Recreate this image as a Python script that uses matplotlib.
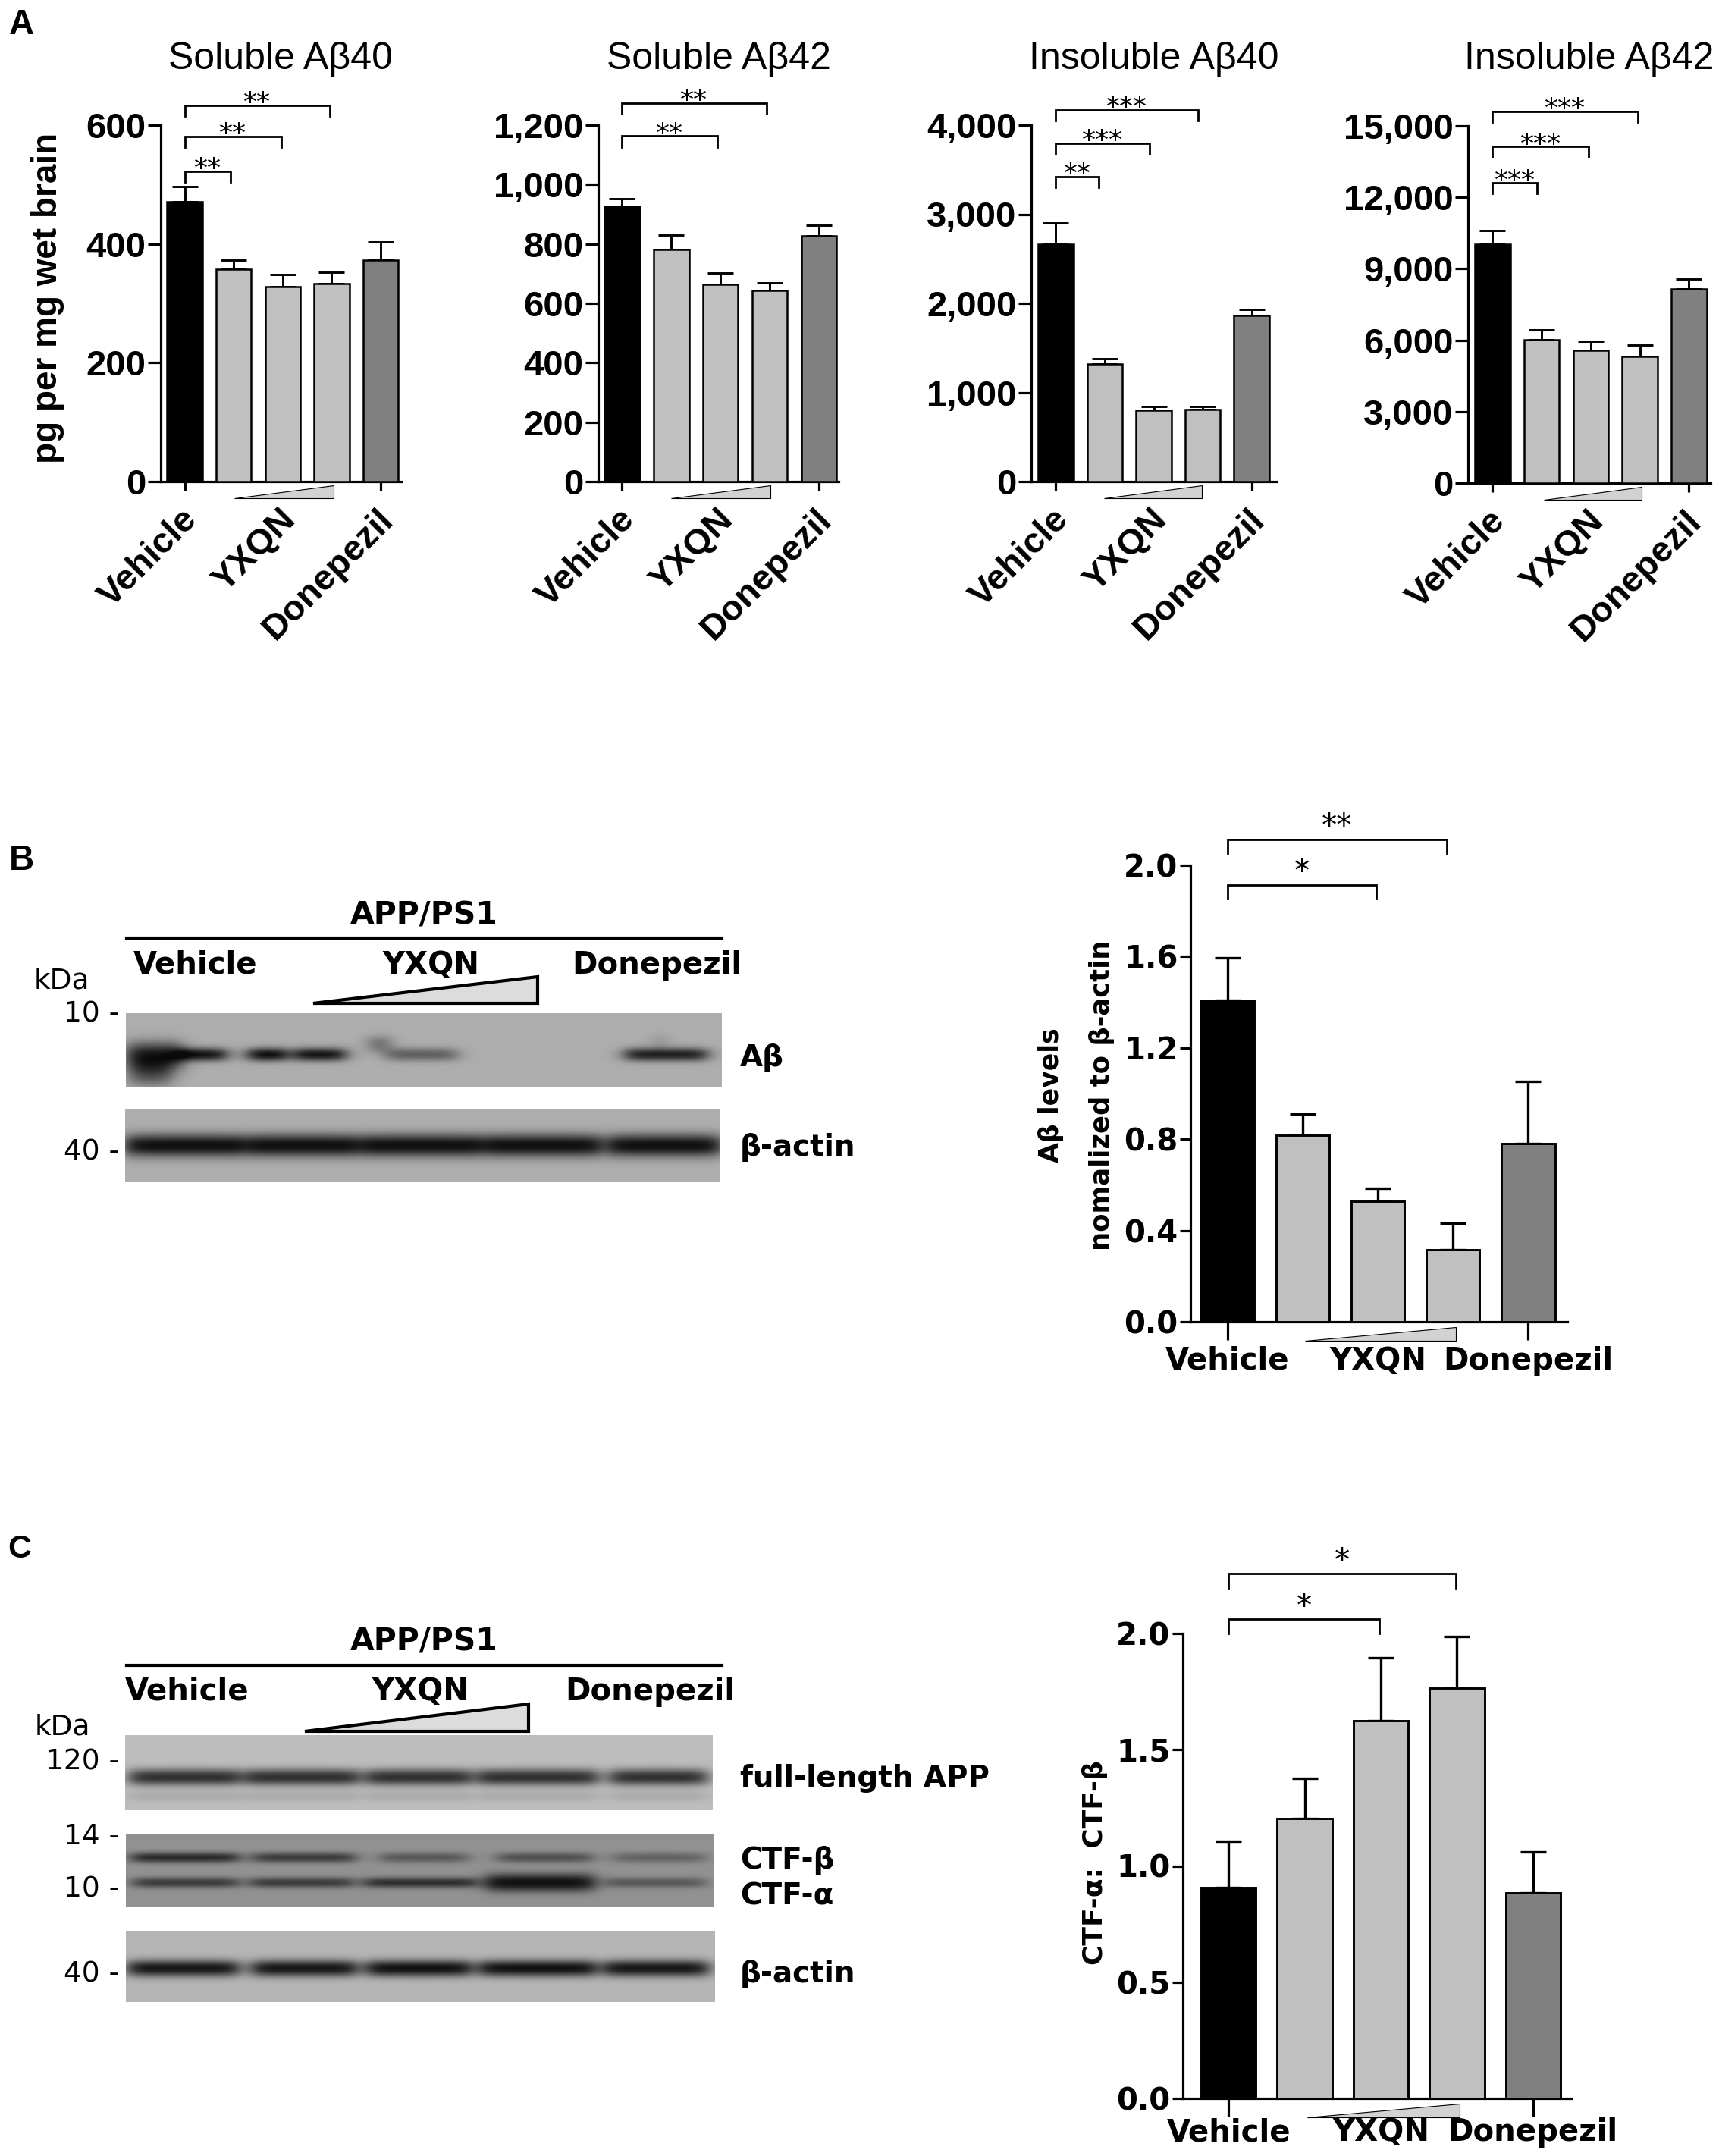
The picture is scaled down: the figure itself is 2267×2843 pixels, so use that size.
import numpy as np
import matplotlib
matplotlib.use("Agg")
import matplotlib.pyplot as plt
from matplotlib.patches import Polygon
from matplotlib.transforms import blended_transform_factory
from matplotlib.ticker import FuncFormatter

plt.rcParams['font.family'] = ['DejaVu Sans']
ARIAL = ['Liberation Sans', 'DejaVu Sans']

#----- data -----
groups = ["Vehicle", "YXQN", "Donepezil"]

sol40 = [471, 358, 328, 333, 373]
sol40_err = [26, 15, 20, 19, 30]
sol42 = [926, 780, 664, 644, 828]
sol42_err = [27, 51, 39, 26, 36]
insol40 = [2660, 1321, 798, 807, 1867]
insol40_err = [238, 61, 48, 39, 62]
insol42 = [10020, 6025, 5580, 5330, 8160]
insol42_err = [590, 410, 375, 480, 405]

ab_ratio = [1.408, 0.818, 0.527, 0.317, 0.782]
ab_ratio_err = [0.188, 0.091, 0.059, 0.114, 0.270]
ctf_ratio = [0.907, 1.205, 1.624, 1.765, 0.885]
ctf_ratio_err = [0.199, 0.172, 0.273, 0.221, 0.174]

# significance brackets: (end bar, height, stars)
sig_sol40 = [(0.94, 522, "**"), (1.97, 581, "**"), (2.96, 633, "**")]
sig_sol42 = [(1.94, 1163, "**"), (2.93, 1275, "**")]
sig_insol40 = [(0.88, 3420, "**"), (1.92, 3800, "***"), (2.9, 4171, "***")]
sig_insol42 = [(0.9, 12600, "***"), (1.96, 14130, "***"), (2.96, 15620, "***")]
sig_ab = [(1.98, 1.915, "*"), (2.92, 2.114, "**")]
sig_ctf = [(1.98, 2.061, "*"), (2.99, 2.257, "*")]

# blot band darkness per lane
ab_band = [0.60, 0.64, 0.60, 0.30, 0.0, 0.55]
actin_b_band = [0.62, 0.62, 0.62, 0.62, 0.62]
app_band = [0.55, 0.55, 0.55, 0.55, 0.55]
ctf_beta_band = [0.40, 0.33, 0.22, 0.25, 0.18]
ctf_alpha_band = [0.33, 0.33, 0.38, 0.50, 0.22]
actin_c_band = [0.62, 0.62, 0.64, 0.64, 0.62]

bar_colors = ["black", "#c0c0c0", "#c0c0c0", "#c0c0c0", "#808080"]

W, H = 2267, 2843
fig = plt.figure(figsize=(W / 100, H / 100), dpi=100)

canvas = fig.add_axes([0, 0, 1, 1])
canvas.set_xlim(0, W)
canvas.set_ylim(H, 0)
canvas.axis('off')


def rect(x0, y0, x1, y1):
    return [x0 / W, 1 - y1 / H, (x1 - x0) / W, (y1 - y0) / H]


def bar_axes(box, vals, errs, ymax, yticks, fmt, xlim, width, edge_lw, sig, star_size, star_off,
             tri, tick_len, xtick_len, tick_font, tick_size):
    ax = fig.add_axes(rect(*box))
    ax.patch.set_visible(False)
    x = np.arange(len(vals))
    ax.bar(x, vals, width, color=bar_colors, edgecolor='black', linewidth=edge_lw, zorder=3)
    ax.errorbar(x, vals, yerr=[np.zeros(len(vals)), errs], fmt='none', ecolor='black',
                elinewidth=edge_lw + 0.3, capsize=12, capthick=edge_lw + 0.3, zorder=2)
    ax.set_ylim(0, ymax)
    ax.set_xlim(*xlim)
    ax.set_yticks(yticks)
    ax.yaxis.set_major_formatter(FuncFormatter(fmt))
    for s in ['top', 'right']:
        ax.spines[s].set_visible(False)
    for s in ['left', 'bottom']:
        ax.spines[s].set_linewidth(2.3)
    ax.tick_params(axis='y', length=tick_len, width=2.3, pad=2)
    ax.tick_params(axis='x', length=xtick_len, width=2.3)
    for lab in ax.get_yticklabels():
        lab.set_fontweight('bold')
        lab.set_family(tick_font)
        lab.set_fontsize(tick_size)
    drop = 0.03 * ymax
    for xe, yv, st in sig:
        ax.plot([0, 0, xe, xe], [yv - drop, yv, yv, yv - drop], color='black', lw=2.0,
                clip_on=False, solid_joinstyle='miter')
        ax.annotate(st, xy=(xe / 2, yv), xytext=(0, star_off), textcoords='offset points',
                    ha='center', va='center', fontsize=star_size, annotation_clip=False)
    bt = blended_transform_factory(ax.transData, ax.transAxes)
    t0, t1, ytop, ybot = tri
    ax.add_patch(Polygon([(t0, ybot), (t1, ybot), (t1, ytop)], closed=True, transform=bt,
                         clip_on=False, facecolor='#d2d2d2', edgecolor='black', lw=0.8))
    return ax


def comma(v, p):
    return "{:,.0f}".format(v)


def one_dec(v, p):
    return "{:.1f}".format(v)


# ---------- panel A ----------
panelA = [
    ((212, 165, 529, 635), sol40, sol40_err, 600, [0, 200, 400, 600], (-0.49, 4.42), sig_sol40,
     (1.02, 3.04), "Soluble A\u03b240"),
    ((789, 165, 1106, 635), sol42, sol42_err, 1200, list(range(0, 1201, 200)), (-0.48, 4.4), sig_sol42,
     (1.0, 3.01), "Soluble A\u03b242"),
    ((1360, 165, 1683, 635), insol40, insol40_err, 4000, list(range(0, 4001, 1000)), (-0.5, 4.5), sig_insol40,
     (0.99, 2.99), "Insoluble A\u03b240"),
    ((1936, 166, 2256, 637), insol42, insol42_err, 15000, list(range(0, 15001, 3000)), (-0.5, 4.44), sig_insol42,
     (1.04, 3.04), "Insoluble A\u03b242"),
]
for box, vals, errs, ymax, yt, xl, sig, (t0, t1), title in panelA:
    ax = bar_axes(box, vals, errs, ymax, yt, comma, xl, 0.72, 1.8, sig, 26, 2,
                  (t0, t1, -0.011, -0.047), 12, 8.6, ARIAL, 34)
    ax.set_xticks([0, 4])
    ax.set_xticklabels([])
    bt = blended_transform_factory(ax.transData, ax.transAxes)
    for i, g in zip([0, 2, 4], groups):
        ax.annotate(g, xy=(i, 0), xycoords=bt, xytext=(-4, -20), textcoords='offset points',
                    rotation=45, ha='right', va='top', rotation_mode='anchor',
                    fontsize=34, fontweight='bold', family=ARIAL, annotation_clip=False)
    canvas.text((box[0] + box[2]) / 2, 78, title, ha='center', va='center', fontsize=36,
                family=ARIAL)

canvas.text(63, 393, "pg per mg wet brain", rotation=90, ha='center', va='center',
            fontsize=33, fontweight='bold', family=ARIAL)

# ---------- panel B / C bar charts ----------
axB = bar_axes((1570, 1141, 2067, 1743), ab_ratio, ab_ratio_err, 2.0, [0, 0.4, 0.8, 1.2, 1.6, 2.0],
               one_dec, (-0.49, 4.52), 0.71, 2.1, sig_ab, 29, 11, (1.03, 3.04, -0.012, -0.042), 10, 17,
               ['DejaVu Sans'], 29)
axC = bar_axes((1560, 2154, 2072, 2767), ctf_ratio, ctf_ratio_err, 2.0, [0, 0.5, 1.0, 1.5, 2.0],
               one_dec, (-0.6, 4.5), 0.72, 2.1, sig_ctf, 29, 11, (1.03, 3.04, -0.011, -0.041), 10, 17,
               ['DejaVu Sans'], 29)
for ax, pad in [(axB, 6), (axC, 1)]:
    ax.set_xticks([0, 2, 4])
    ax.set_xticklabels(groups, fontsize=29, fontweight='bold')
    ax.tick_params(axis='x', pad=pad)
    ax.xaxis.get_major_ticks()[1].tick1line.set_visible(False)

canvas.text(1386, 1444, "A\u03b2 levels", rotation=90, ha='center', va='center',
            fontsize=25, fontweight='bold')
canvas.text(1453, 1444, "nomalized to \u03b2-actin", rotation=90, ha='center', va='center',
            fontsize=25.5, fontweight='bold')
canvas.text(1444, 2456, "CTF-\u03b1:  CTF-\u03b2", rotation=90, ha='center', va='center',
            fontsize=26, fontweight='bold')

# ---------- western blots ----------
def blot(x0, y0, x1, y1, bg, bands):
    xx = np.arange(x0, x1)[None, :]
    yy = np.arange(y0, y1)[:, None]
    img = np.full((y1 - y0, x1 - x0), bg, dtype=float)
    for bx0, bx1, yc, hh, d in bands:
        mx = 1 / (1 + np.exp(-(xx - bx0) / 7.0)) / (1 + np.exp(-(bx1 - xx) / 7.0))
        my = np.exp(-np.abs((yy - yc) / hh) ** 2.2)
        img = img - d * mx * my
    canvas.imshow(np.clip(img, 0.04, 1), cmap='gray', vmin=0, vmax=1, extent=(x0, x1, y1, y0),
                  aspect='auto', interpolation='bilinear', zorder=1)


lanes_b_ab = [(235, 298), (327, 378), (388, 455), (509, 602), (690, 760), (824, 932)]
ab_rows = [(l0, l1, 1390, 9, d) for (l0, l1), d in zip(lanes_b_ab, ab_band)]
ab_rows += [(168, 240, 1392, 18, 0.6), (172, 225, 1416, 16, 0.35), (488, 512, 1376, 11, 0.3),
            (866, 874, 1372, 10, 0.15)]
blot(166, 1336, 952, 1434, 0.68, ab_rows)

lanes_b_actin = [(165, 324), (326, 473), (475, 637), (639, 793), (801, 950)]
blot(165, 1462, 950, 1559, 0.68,
     [(l0, l1, 1510, 15, d) for (l0, l1), d in zip(lanes_b_actin, actin_b_band)])

lanes_c_app = [(170, 316), (322, 473), (482, 621), (629, 788), (804, 932)]
app_rows = [(l0, l1, 2343, 11, d) for (l0, l1), d in zip(lanes_c_app, app_band)]
app_rows += [(l0, l1, 2368, 7, 0.07) for (l0, l1) in lanes_c_app]
blot(165, 2288, 940, 2387, 0.74, app_rows)

lanes_c_beta = [(173, 314), (333, 468), (501, 616), (656, 781), (809, 929)]
lanes_c_alpha = [(175, 314), (330, 465), (480, 628), (640, 783), (798, 929)]
ctf_rows = [(l0, l1, 2449, 7, d) for (l0, l1), d in zip(lanes_c_beta, ctf_beta_band)]
ctf_rows += [(l0, l1, 2482, 12 if i == 3 else 7, d)
             for i, ((l0, l1), d) in enumerate(zip(lanes_c_alpha, ctf_alpha_band))]
blot(166, 2419, 942, 2515, 0.57, ctf_rows)

lanes_c_actin = [(168, 314), (332, 470), (483, 621), (632, 786), (796, 934)]
blot(166, 2546, 943, 2640, 0.71,
     [(l0, l1, 2595, 11, d) for (l0, l1), d in zip(lanes_c_actin, actin_c_band)])

canvas.set_xlim(0, W)
canvas.set_ylim(H, 0)

# blot headers
for ytitle, yline, ylab, xs, tri in [
        (1208, 1237, 1273, (258, 568, 866), (413, 709, 1323, 1288)),
        (2166, 2196, 2231, (247, 554, 857), (402, 697, 2283, 2247))]:
    canvas.text(559, ytitle, "APP/PS1", ha='center', va='center', fontsize=29.5, fontweight='bold')
    canvas.plot([167, 952], [yline, yline], color='black', lw=3)
    for xg, g in zip(xs, groups):
        canvas.text(xg, ylab, g, ha='center', va='center', fontsize=29, fontweight='bold')
    a, b, yb, yt = tri
    canvas.add_patch(Polygon([(a, yb), (b, yb), (b, yt)], closed=True, facecolor='#dcdcdc',
                             edgecolor='black', lw=3, joinstyle='miter', zorder=3))

canvas.text(81, 1293, "kDa", ha='center', va='center', fontsize=27)
canvas.text(82, 2278, "kDa", ha='center', va='center', fontsize=27)
for lab, yy in [("10 -", 1338), ("40 -", 1520), ("120 -", 2323), ("14 -", 2422),
                ("10 -", 2491), ("40 -", 2603)]:
    canvas.text(157, yy, lab, ha='right', va='center', fontsize=27)
for lab, yy in [("A\u03b2", 1395), ("\u03b2-actin", 1513), ("full-length APP", 2345),
                ("CTF-\u03b2", 2453), ("CTF-\u03b1", 2500), ("\u03b2-actin", 2603)]:
    canvas.text(976, yy, lab, ha='left', va='center', fontsize=28, fontweight='bold')

# panel letters
canvas.text(28, 33, "A", ha='center', va='center', fontsize=33, fontweight='bold', family=ARIAL)
canvas.text(28, 1135, "B", ha='center', va='center', fontsize=33, fontweight='bold', family=ARIAL)
canvas.text(26, 2043, "C", ha='center', va='center', fontsize=31, fontweight='bold', family=ARIAL)

fig.savefig("out.png", dpi=100)
